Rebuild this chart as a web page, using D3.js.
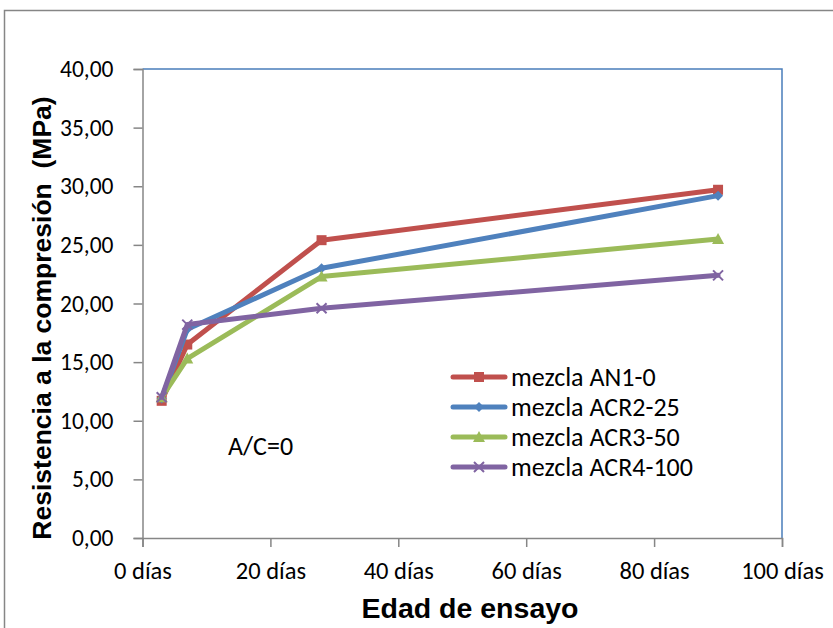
<!DOCTYPE html>
<html>
<head>
<meta charset="utf-8">
<script src="https://cdn.jsdelivr.net/npm/d3@7"></script>
<style>
  html, body { margin: 0; padding: 0; background: #fff; }
  svg { display: block; }
  text { white-space: pre; }
</style>
</head>
<body>
<svg id="chart" width="833" height="628"></svg>
<script>
// Test ages (days) and compressive strength per mix (MPa)
const dias = [3, 7, 28, 90];
const seriesNames = ["mezcla AN1-0", "mezcla ACR2-25", "mezcla ACR3-50", "mezcla ACR4-100"];
const an1 = [11.7, 16.5, 25.4, 29.7];
const acr2 = [11.9, 17.8, 23.0, 29.2];
const acr3 = [12.0, 15.3, 22.3, 25.5];
const acr4 = [12.0, 18.2, 19.6, 22.4];
const yTicks = [0, 5, 10, 15, 20, 25, 30, 35, 40];
const xTicks = [0, 20, 40, 60, 80, 100];

const colors = ["#C0504D", "#4F81BD", "#9BBB59", "#8064A2"];
const markers = ["square", "diamond", "triangle", "cross"];
const values = [an1, acr2, acr3, acr4];

const svg = d3.select("#chart");
const tickFont = "Carlito, Lato, 'Open Sans', sans-serif";
const titleFont = "'Liberation Sans', Arial, sans-serif";

const locale = d3.formatLocale({decimal: ",", thousands: ".", grouping: [3], currency: ["", " €"]});
const fmt = locale.format(".2f");

// Chart frame
svg.append("rect")
  .attr("x", 4.5).attr("y", 10.5)
  .attr("width", 900).attr("height", 700)
  .attr("fill", "#fff").attr("stroke", "#868686").attr("stroke-width", 1.5);

const plot = {left: 142.5, right: 782, top: 69, bottom: 538};

const x = d3.scaleLinear().domain([0, 100]).range([plot.left, plot.right]);
const y = d3.scaleLinear().domain([0, 40]).range([plot.bottom, plot.top]);

// Plot area border (top and right)
svg.append("path")
  .attr("d", `M${plot.left},${plot.top}H${plot.right}V${plot.bottom}`)
  .attr("fill", "none").attr("stroke", "#4A7EBB").attr("stroke-width", 1.5);

// Y axis
const yAxis = d3.axisLeft(y).tickValues(yTicks).tickSize(9).tickPadding(20).tickFormat(fmt);
const gy = svg.append("g").attr("transform", `translate(${plot.left},0)`).call(yAxis);
gy.select(".domain").attr("stroke", "#868686").attr("stroke-width", 1.5);
gy.selectAll(".tick line").attr("stroke", "#868686").attr("stroke-width", 1.5);
gy.selectAll(".tick text")
  .attr("font-family", tickFont).attr("font-size", 23.5).attr("fill", "#000");

// X axis
const xAxis = d3.axisBottom(x).tickValues(xTicks).tickSize(9).tickPadding(15)
  .tickFormat(d => d + " días");
const gx = svg.append("g").attr("transform", `translate(0,${plot.bottom})`).call(xAxis);
gx.select(".domain").attr("stroke", "#868686").attr("stroke-width", 1.5);
gx.selectAll(".tick line").attr("stroke", "#868686").attr("stroke-width", 1.5);
gx.selectAll(".tick text")
  .attr("font-family", tickFont).attr("font-size", 24.5).attr("fill", "#000");

// Axis titles
svg.append("text")
  .attr("x", 470).attr("y", 618)
  .attr("text-anchor", "middle")
  .attr("font-family", titleFont).attr("font-weight", "bold").attr("font-size", 28.5)
  .text("Edad de ensayo");

svg.append("text")
  .attr("transform", "translate(51,318) rotate(-90)")
  .attr("text-anchor", "middle")
  .attr("font-family", titleFont).attr("font-weight", "bold").attr("font-size", 26.5)
  .text("Resistencia a la compresión  (MPa)");

// Marker drawing
function drawMarker(g, type, cx, cy, color) {
  if (type === "square") {
    g.append("rect").attr("x", cx - 5).attr("y", cy - 5).attr("width", 10).attr("height", 10)
      .attr("fill", color);
  } else if (type === "diamond") {
    g.append("path").attr("d", `M${cx},${cy - 5}L${cx + 5},${cy}L${cx},${cy + 5}L${cx - 5},${cy}Z`)
      .attr("fill", color);
  } else if (type === "triangle") {
    g.append("path").attr("d", `M${cx},${cy - 6}L${cx + 6},${cy + 5}L${cx - 6},${cy + 5}Z`)
      .attr("fill", color);
  } else {
    g.append("path").attr("d", `M${cx - 5},${cy - 5}L${cx + 5},${cy + 5}M${cx - 5},${cy + 5}L${cx + 5},${cy - 5}`)
      .attr("stroke", color).attr("stroke-width", 2);
  }
}

// Series lines and markers
const line = d3.line().x(d => x(d[0])).y(d => y(d[1]));
values.forEach((vals, i) => {
  const pts = dias.map((d, j) => [d, vals[j]]);
  const g = svg.append("g");
  g.append("path").attr("d", line(pts))
    .attr("fill", "none").attr("stroke", colors[i]).attr("stroke-width", 5)
    .attr("stroke-linejoin", "round").attr("stroke-linecap", "round");
  pts.forEach(p => drawMarker(g, markers[i], x(p[0]), y(p[1]), colors[i]));
});

// Legend
const legend = svg.append("g");
seriesNames.forEach((name, i) => {
  const ly = 377 + i * 30;
  const g = legend.append("g");
  g.append("line").attr("x1", 453).attr("x2", 505).attr("y1", ly).attr("y2", ly)
    .attr("stroke", colors[i]).attr("stroke-width", 5).attr("stroke-linecap", "round");
  drawMarker(g, markers[i], 479, ly, colors[i]);
  g.append("text").attr("x", 511).attr("y", ly + 9)
    .attr("font-family", tickFont).attr("font-size", 26).attr("fill", "#000")
    .text(name);
});

// Annotation
svg.append("text")
  .attr("x", 228).attr("y", 455)
  .attr("font-family", tickFont).attr("font-size", 26).attr("fill", "#000")
  .text("A/C=0");
</script>
</body>
</html>
